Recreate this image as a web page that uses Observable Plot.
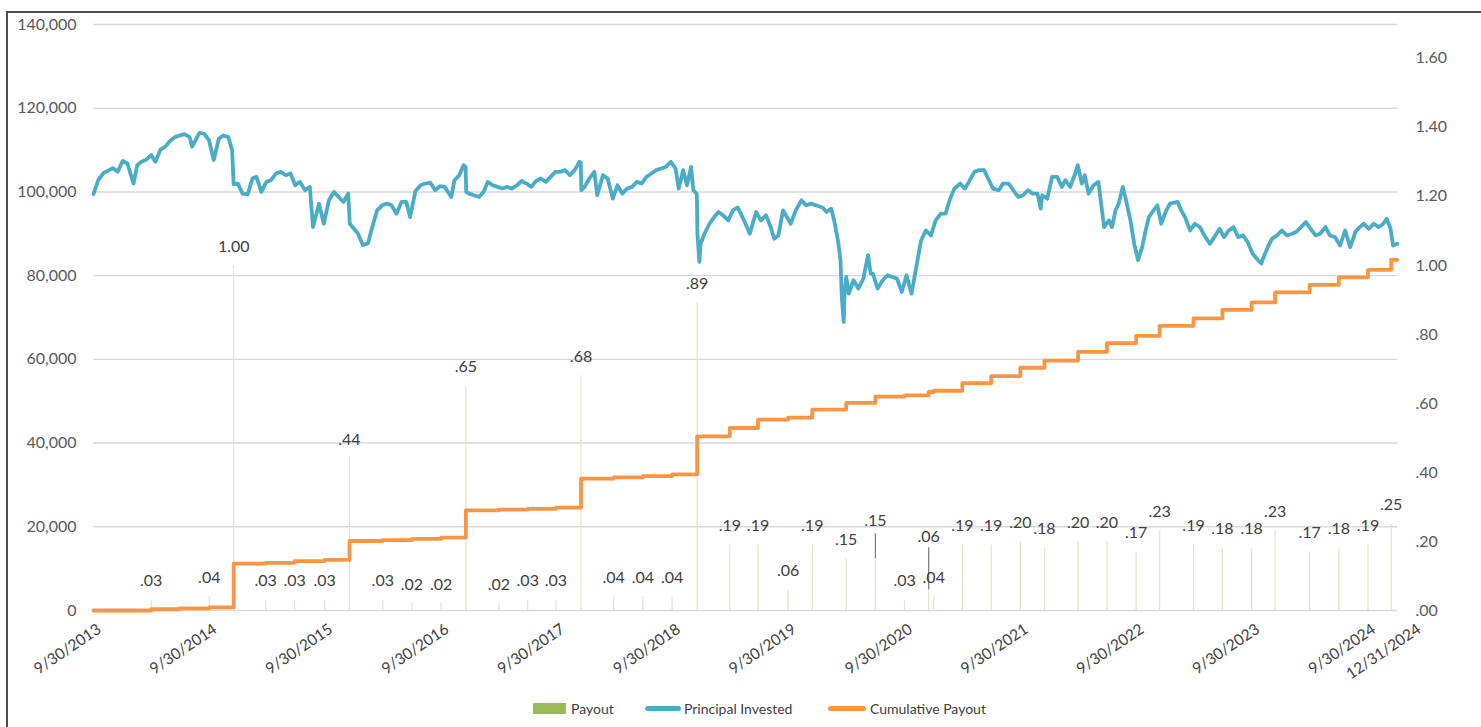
<!DOCTYPE html>
<html><head><meta charset="utf-8">
<script src="https://cdn.jsdelivr.net/npm/d3@7"></script>
<script src="https://cdn.jsdelivr.net/npm/@observablehq/plot@0.6"></script>
<style>
body{margin:0;background:#fff;font-family:Lato,sans-serif;}
#wrap{position:relative;width:1481px;height:727px;overflow:hidden;background:#fff;}
#frame{position:absolute;left:6px;top:11px;width:1490px;height:730px;border-left:2px solid #4d4d4d;border-top:2px solid #4d4d4d;}
#chart{position:absolute;left:0;top:0;}
.lg{position:absolute;font-size:14px;color:#404040;line-height:18px;top:700px;white-space:nowrap;}
.sw{position:absolute;}
</style></head><body>
<div id="wrap">
  <div id="frame"></div>
  <div id="chart"></div>
  <div class="sw" style="left:533px;top:703px;width:33px;height:11px;background:#9bbb59"></div>
  <div class="lg" style="left:571px">Payout</div>
  <div class="sw" style="left:645px;top:706px;width:36px;height:5px;border-radius:3px;background:#4bacc6"></div>
  <div class="lg" style="left:684px">Principal Invested</div>
  <div class="sw" style="left:828px;top:706px;width:38px;height:5px;border-radius:3px;background:#f79646"></div>
  <div class="lg" style="left:870px">Cumulative Payout</div>
</div>
<script>
// ---- data ----
// x-axis tick dates
const tickDates = ["2013-09-30","2014-09-30","2015-09-30","2016-09-30","2017-09-30","2018-09-30","2019-09-30","2020-09-30","2021-09-30","2022-09-30","2023-09-30","2024-09-30","2024-12-31"];
// left axis ticks ($)
const leftTicks = [0,20000,40000,60000,80000,100000,120000,140000];
// right axis ticks (payout per share)
const rightTicks = [0,0.2,0.4,0.6,0.8,1.0,1.2,1.4,1.6];

// payouts per share
const payoutDates = ["2014-03-31","2014-09-30","2014-12-16","2015-03-27","2015-06-26","2015-09-29","2015-12-16","2016-03-30","2016-06-30","2016-09-30","2016-12-17","2017-03-31","2017-06-30","2017-09-27","2017-12-15","2018-03-28","2018-06-28","2018-09-28","2018-12-16","2019-03-29","2019-06-26","2019-09-29","2019-12-14","2020-03-30","2020-06-30","2020-09-30","2020-12-15","2020-12-31","2021-03-31","2021-06-30","2021-09-30","2021-12-15","2022-03-31","2022-06-30","2022-09-30","2022-12-13","2023-03-30","2023-06-29","2023-09-29","2023-12-12","2024-03-30","2024-06-30","2024-09-30","2024-12-12"];
const payoutValues = [0.03,0.04,1.00,0.03,0.03,0.03,0.44,0.03,0.02,0.02,0.65,0.02,0.03,0.03,0.68,0.04,0.04,0.04,0.89,0.19,0.19,0.06,0.19,0.15,0.15,0.03,0.06,0.04,0.19,0.19,0.20,0.18,0.20,0.20,0.17,0.23,0.19,0.18,0.18,0.23,0.17,0.18,0.19,0.25];

// cumulative payout ($ thousands)
const cumulativeDates = ["2013-09-30","2014-03-31","2014-06-27","2014-09-30","2014-12-16","2015-03-27","2015-06-26","2015-09-29","2015-12-16","2016-03-30","2016-06-30","2016-09-30","2016-12-17","2017-03-31","2017-06-30","2017-09-27","2017-12-15","2018-03-28","2018-06-28","2018-09-28","2018-12-16","2019-03-29","2019-06-26","2019-09-29","2019-12-14","2020-03-30","2020-06-30","2020-09-30","2020-12-15","2020-12-31","2021-03-31","2021-06-30","2021-09-30","2021-12-15","2022-03-31","2022-06-30","2022-09-30","2022-12-13","2023-03-30","2023-06-29","2023-09-29","2023-12-12","2024-03-30","2024-06-30","2024-09-30","2024-12-12","2024-12-31"];
const cumulativeValues = [0,0.3,0.5,0.77,11.2,11.4,11.8,12.1,16.6,16.8,17.1,17.4,23.9,24.1,24.3,24.6,31.5,31.8,32.1,32.5,41.6,43.6,45.6,46.1,48.0,49.6,51.1,51.4,52.2,52.5,54.3,56.0,58.0,59.7,61.8,63.9,65.6,68.0,69.8,71.8,73.6,76.0,77.8,79.6,81.4,83.8,83.8];

// principal invested ($ thousands)
const principalSeries = [
["2013-09-30",99.5],["2013-10-15",102.8],["2013-10-31",104.5],["2013-11-30",105.7],["2013-12-15",104.8],["2013-12-31",107.4],
["2014-01-15",106.8],["2014-02-03",102.0],["2014-02-15",106.4],["2014-02-28",107.2],["2014-03-15",107.7],["2014-03-31",108.8],
["2014-04-13",107.2],["2014-04-29",110.1],["2014-05-14",110.8],["2014-05-30",112.2],["2014-06-14",113.1],["2014-06-29",113.5],
["2014-07-14",113.8],["2014-07-30",113.1],["2014-08-07",110.8],["2014-08-30",114.1],["2014-09-14",113.9],["2014-09-29",112.4],
["2014-10-14",107.6],["2014-10-30",112.7],["2014-11-14",113.5],["2014-11-29",113.1],["2014-12-11",110.0],["2014-12-16",101.8],
["2014-12-29",102.0],["2015-01-13",99.6],["2015-01-29",99.4],["2015-02-13",103.2],["2015-02-26",103.6],["2015-03-13",100.0],
["2015-03-29",102.4],["2015-04-13",102.8],["2015-04-28",104.4],["2015-05-13",104.8],["2015-05-29",104.0],["2015-06-13",104.4],
["2015-06-28",101.6],["2015-07-13",102.4],["2015-07-29",100.4],["2015-08-13",101.2],["2015-08-23",91.6],["2015-09-11",97.2],
["2015-09-26",92.4],["2015-10-12",98.0],["2015-10-28",100.0],["2015-11-12",98.8],["2015-11-27",97.6],["2015-12-12",99.6],
["2015-12-17",92.4],["2016-01-12",90.0],["2016-01-27",87.3],["2016-02-12",87.7],["2016-02-26",91.6],["2016-03-12",95.6],
["2016-03-28",96.8],["2016-04-12",97.2],["2016-04-27",96.8],["2016-05-12",94.8],["2016-05-28",97.6],["2016-06-12",97.6],
["2016-06-24",94.0],["2016-07-11",100.2],["2016-07-27",101.6],["2016-08-11",102.0],["2016-08-27",102.2],["2016-09-11",100.4],
["2016-09-26",101.4],["2016-10-11",101.2],["2016-11-01",98.8],["2016-11-11",102.8],["2016-11-26",104.0],["2016-12-10",106.4],
["2016-12-16",106.0],["2016-12-18",100.0],["2016-12-27",99.6],["2017-01-11",99.2],["2017-01-27",98.8],["2017-02-11",100.0],
["2017-02-24",102.4],["2017-03-11",101.6],["2017-03-27",101.2],["2017-04-11",100.8],["2017-04-26",101.2],["2017-05-11",100.8],
["2017-05-27",101.6],["2017-06-11",102.6],["2017-06-26",102.0],["2017-07-11",101.2],["2017-07-26",102.6],["2017-08-10",103.2],
["2017-08-26",102.4],["2017-09-10",103.6],["2017-09-25",104.8],["2017-10-10",104.8],["2017-10-26",105.2],["2017-11-10",104.0],
["2017-11-25",105.2],["2017-12-10",107.2],["2017-12-14",107.0],["2017-12-16",100.4],["2017-12-26",101.2],["2018-01-10",103.2],
["2018-01-26",104.8],["2018-02-04",99.2],["2018-02-22",104.0],["2018-03-09",103.2],["2018-03-25",98.4],["2018-04-09",101.6],
["2018-04-24",99.6],["2018-05-09",100.8],["2018-05-25",101.2],["2018-06-09",102.4],["2018-06-24",102.0],["2018-07-09",103.6],
["2018-07-25",104.4],["2018-08-09",105.2],["2018-08-25",105.6],["2018-09-09",106.0],["2018-09-24",107.2],["2018-10-09",105.6],
["2018-10-19",100.8],["2018-11-02",105.2],["2018-11-14",101.6],["2018-11-27",106.0],["2018-12-04",100.4],["2018-12-15",99.5],
["2018-12-17",90.0],["2018-12-23",83.3],["2018-12-27",87.6],["2019-01-08",90.0],["2019-01-24",92.4],["2019-02-08",94.0],
["2019-02-21",95.2],["2019-03-08",94.4],["2019-03-24",93.2],["2019-04-08",95.6],["2019-04-23",96.3],["2019-05-13",93.2],
["2019-05-31",90.0],["2019-06-20",95.2],["2019-07-05",93.2],["2019-07-21",94.4],["2019-08-05",91.6],["2019-08-16",88.8],
["2019-08-29",89.6],["2019-09-13",95.6],["2019-09-28",93.6],["2019-10-07",92.4],["2019-10-23",95.6],["2019-11-10",98.0],
["2019-11-25",96.8],["2019-12-10",97.2],["2019-12-26",96.8],["2020-01-16",96.2],["2020-01-28",95.2],["2020-02-12",96.0],
["2020-02-21",93.2],["2020-03-04",88.4],["2020-03-12",83.7],["2020-03-16",75.0],["2020-03-22",68.9],["2020-03-25",76.0],
["2020-03-30",79.7],["2020-04-07",75.7],["2020-04-22",78.9],["2020-05-07",76.9],["2020-05-23",79.3],["2020-06-07",84.9],
["2020-06-15",80.5],["2020-06-22",80.5],["2020-07-07",76.9],["2020-07-23",78.9],["2020-08-07",80.1],["2020-08-22",79.7],
["2020-09-06",79.3],["2020-09-21",76.1],["2020-10-06",80.1],["2020-10-22",75.7],["2020-11-06",82.1],["2020-11-21",88.4],
["2020-12-06",90.8],["2020-12-22",89.6],["2021-01-06",93.2],["2021-01-22",94.8],["2021-02-06",94.8],["2021-02-19",98.0],
["2021-03-06",100.8],["2021-03-24",102.0],["2021-04-08",100.8],["2021-04-21",102.4],["2021-05-08",104.8],["2021-05-24",105.2],
["2021-06-08",105.2],["2021-06-23",102.8],["2021-07-06",100.8],["2021-07-24",100.4],["2021-08-06",102.0],["2021-08-24",102.0],
["2021-09-08",100.4],["2021-09-23",98.8],["2021-10-08",99.2],["2021-10-24",100.4],["2021-11-08",99.6],["2021-11-23",99.6],
["2021-12-03",96.0],["2021-12-08",99.2],["2021-12-24",98.4],["2022-01-08",103.6],["2022-01-24",103.6],["2022-02-08",101.2],
["2022-02-19",102.8],["2022-03-06",101.2],["2022-03-22",104.4],["2022-03-30",106.4],["2022-04-12",102.0],["2022-04-21",104.0],
["2022-05-03",99.6],["2022-05-19",101.6],["2022-06-03",102.4],["2022-06-21",91.6],["2022-07-06",93.2],["2022-07-16",91.6],
["2022-07-27",95.6],["2022-08-06",97.2],["2022-08-19",101.2],["2022-08-28",98.4],["2022-09-12",93.2],["2022-09-24",87.6],
["2022-10-06",83.7],["2022-10-19",86.8],["2022-10-30",90.8],["2022-11-09",94.0],["2022-11-24",95.6],["2022-12-06",96.8],
["2022-12-18",92.4],["2023-01-03",95.6],["2023-01-15",97.2],["2023-02-08",97.6],["2023-02-19",95.6],["2023-03-03",94.0],
["2023-03-19",90.8],["2023-04-03",92.4],["2023-04-19",91.6],["2023-05-03",89.6],["2023-05-21",87.6],["2023-06-03",89.2],
["2023-06-20",91.2],["2023-07-04",89.2],["2023-07-19",90.8],["2023-08-03",91.6],["2023-08-18",89.2],["2023-09-02",89.6],
["2023-09-17",88.0],["2023-10-02",85.3],["2023-10-19",83.7],["2023-10-30",82.9],["2023-11-02",83.7],["2023-11-19",86.8],
["2023-12-02",88.8],["2023-12-18",89.6],["2024-01-02",90.8],["2024-01-18",89.6],["2024-02-04",90.0],["2024-02-16",90.4],
["2024-03-03",91.6],["2024-03-18",92.8],["2024-04-02",91.2],["2024-04-18",89.6],["2024-05-02",90.0],["2024-05-19",91.6],
["2024-06-02",89.6],["2024-06-18",89.2],["2024-07-04",87.2],["2024-07-20",90.8],["2024-08-05",86.8],["2024-08-21",90.4],
["2024-09-04",91.6],["2024-09-16",92.4],["2024-10-03",91.2],["2024-10-18",92.4],["2024-11-03",91.6],["2024-11-17",92.4],
["2024-11-28",93.6],["2024-12-10",91.2],["2024-12-18",87.2],["2024-12-31",87.6]
];

// ---- build ----
const parse = d3.utcParse("%Y-%m-%d");
const K = 82450; // right-axis (per share) to left-axis ($) ratio
const PX = 1000 / 4.183; // dollars per pixel on the left axis
const fmtShare = v => { const s = (Math.round(v*100)/100).toFixed(2); return s.startsWith("0") ? s.slice(1) : s; };
const principal = principalSeries.map(([d,v]) => ({date: parse(d), value: v*1000}));
const cumulative = cumulativeDates.map((d,i) => ({date: parse(d), value: cumulativeValues[i]*1000}));
const payouts = payoutDates.map((d,i) => ({date: parse(d), value: payoutValues[i], i}));
// labels that the original moved up, with a leader line (extra lift in px, leader length in px)
const lift = {24: [19, 25], 26: [34, 42]};
const leaders = payouts.filter(d => lift[d.i] !== undefined);
const labelY = d => d.value*K + (19 + (lift[d.i] ? lift[d.i][0] : 0)) * PX;

const W = 1481, H = 690;
const xTicks = tickDates.map(parse);
const fmtDate = d3.utcFormat("%-m/%-d/%Y");

const chart = Plot.plot({
  width: W, height: H,
  marginLeft: 93, marginRight: 84, marginTop: 24, marginBottom: H - 610,
  x: {type: "utc", domain: [parse("2013-09-30"), parse("2025-01-01")]},
  y: {domain: [0, 140000]},
  style: {fontFamily: "Lato, sans-serif", fontSize: "16px", color: "#595959", background: "transparent"},
  marks: [
    Plot.gridY(leftTicks, {stroke: "#d9d9d9", strokeOpacity: 1, strokeWidth: 1.4}),
    Plot.axisY(leftTicks, {tickSize: 0, tickPadding: 17, tickFormat: d3.format(","), label: null}),
    Plot.axisY(rightTicks.map(v => v*K), {anchor: "right", tickSize: 0, tickPadding: 18, tickFormat: d => fmtShare(d/K), label: null}),
    Plot.axisX(xTicks.slice(0, -1), {tickSize: 0, tickPadding: 17, tickRotate: -34, dx: 6, tickFormat: fmtDate, label: null, fontSize: 15.5, fill: "#404040"}),
    Plot.axisX(xTicks.slice(-1), {tickSize: 0, tickPadding: 17, tickRotate: -34, dx: 22, tickFormat: fmtDate, label: null, fontSize: 15.5, fill: "#404040"}),
    Plot.ruleX(payouts, {x: "date", y1: 0, y2: d => d.value*K, stroke: "#e2e5cb", strokeWidth: 1.2}),
    Plot.ruleX(leaders, {x: "date", y1: d => d.value*K, y2: d => d.value*K + lift[d.i][1]*PX, stroke: "#808080", strokeWidth: 1.3}),
    Plot.text(payouts, {x: "date", y: labelY, text: d => fmtShare(d.value), fill: "#404040", fontSize: 16}),
    Plot.line(cumulative, {x: "date", y: "value", curve: "step-after", stroke: "#f79646", strokeWidth: 3.8}),
    Plot.line(principal, {x: "date", y: "value", stroke: "#4bacc6", strokeWidth: 3.8, strokeLinejoin: "round", strokeLinecap: "round"})
  ]
});
document.getElementById("chart").appendChild(chart);
</script>
</body></html>
